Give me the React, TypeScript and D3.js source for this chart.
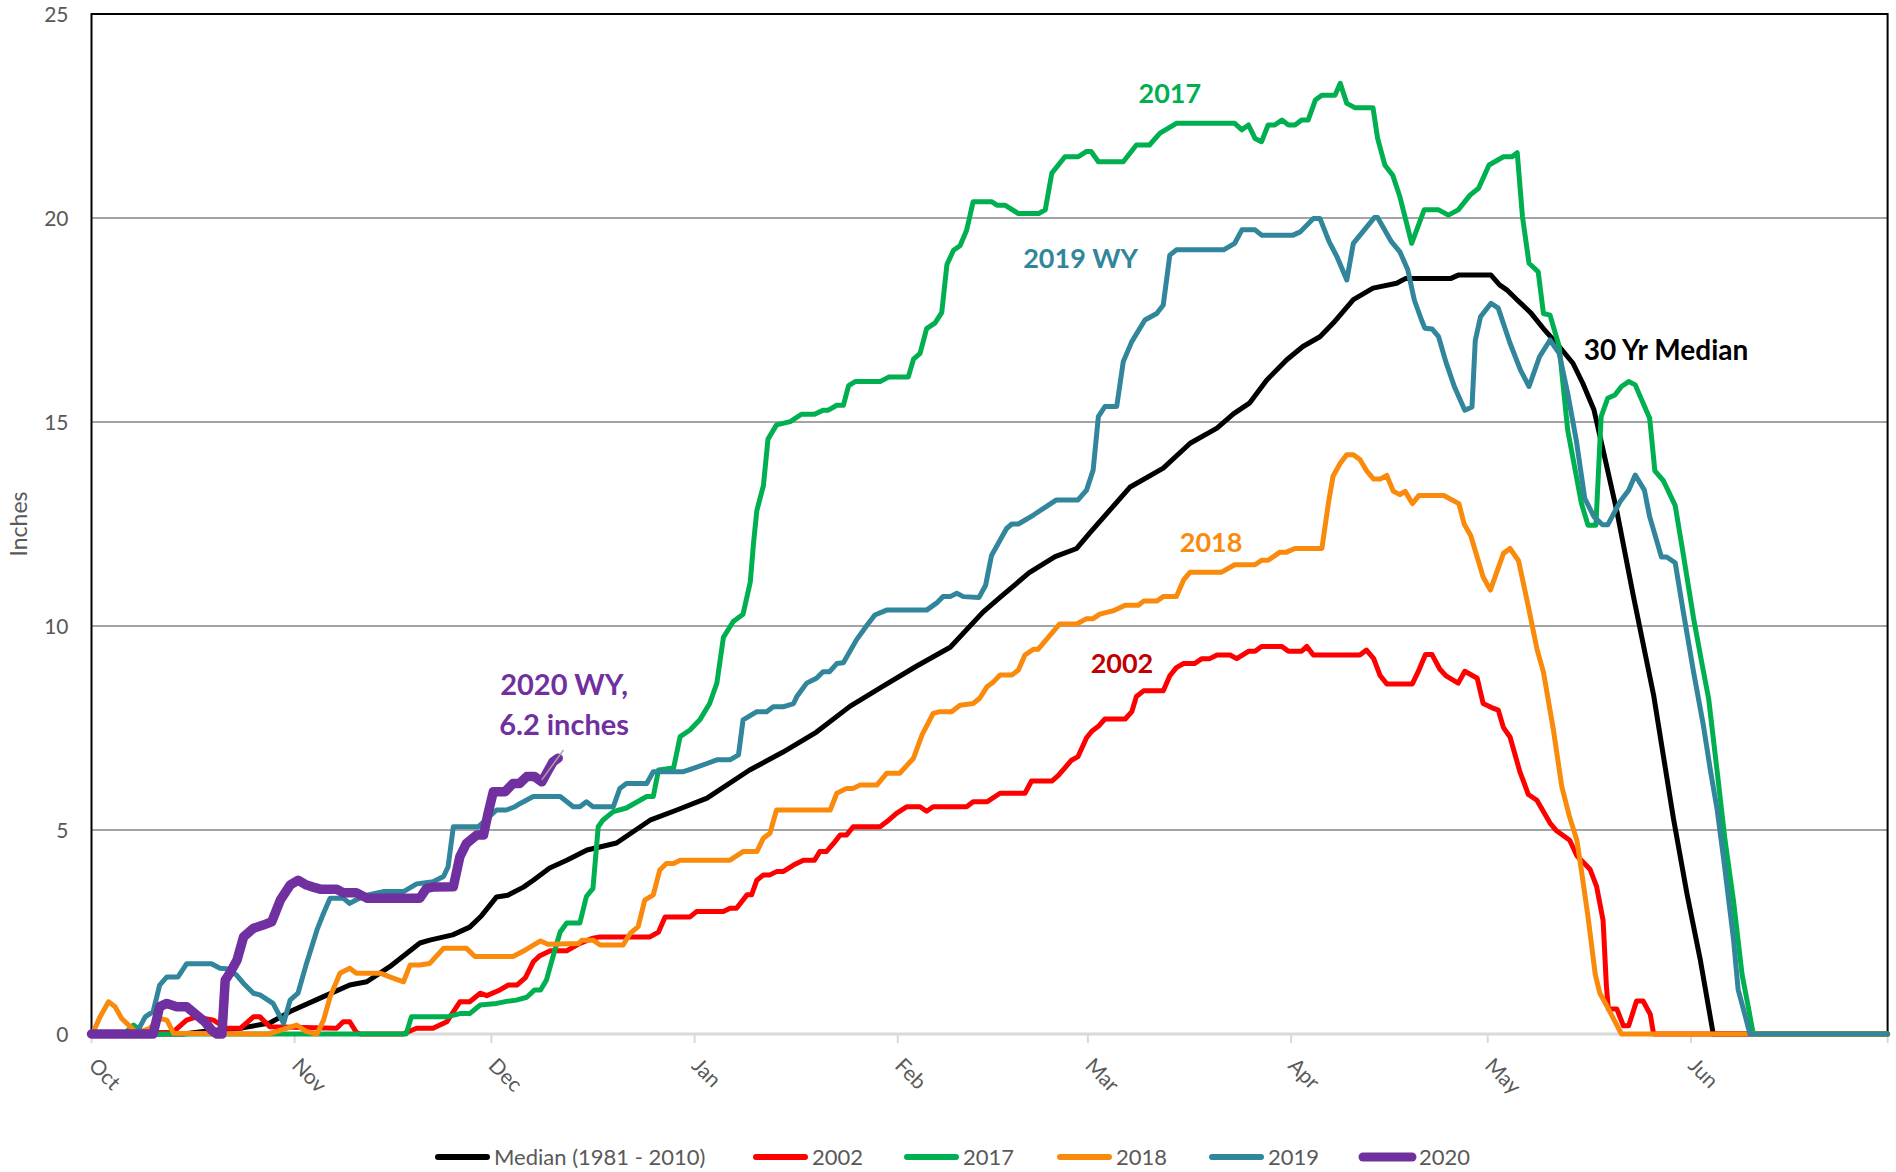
import * as d3 from 'd3';

// water year day index: 0 = Oct 1, 274 = end of June (leap Feb)
const monthLabels = ['Oct', 'Nov', 'Dec', 'Jan', 'Feb', 'Mar', 'Apr', 'May', 'Jun'];
const monthStarts = [0, 31, 61, 92, 123, 152, 183, 213, 244];
const dayCount = 274;
const yTicks = [0, 5, 10, 15, 20, 25];

const median: [number, number][] = [
  [0, 0], [14, 0], [18, 0.08], [22.7, 0.14], [27.2, 0.27], [30.3, 0.55], [35.3, 0.91], [39.4, 1.2], [42, 1.28],
  [45.5, 1.65], [50.1, 2.23], [51.6, 2.3], [55.1, 2.43], [57.7, 2.62], [59.5, 2.9], [61.8, 3.36], [63.5, 3.4],
  [65.9, 3.6], [67.4, 3.77], [69.9, 4.07], [72.5, 4.26], [75.6, 4.51], [80.1, 4.68], [85.2, 5.24], [89.3, 5.49],
  [93.9, 5.78], [100.4, 6.47], [105.5, 6.91], [110.6, 7.4], [115.7, 8.03], [120.7, 8.52], [125.9, 9.02],
  [131, 9.48], [136, 10.34], [138.6, 10.7], [143, 11.3], [147, 11.7], [150.3, 11.9], [152.3, 12.28],
  [158.4, 13.4], [163.5, 13.87], [167.6, 14.48], [171.7, 14.85], [174.2, 15.2], [176.7, 15.47], [179.3, 16.03],
  [182.3, 16.52], [184.8, 16.85], [187.4, 17.09], [189.4, 17.42], [192.5, 18.0], [195.5, 18.28], [199.1, 18.4],
  [200.5, 18.52], [207.4, 18.52], [208.5, 18.6], [213.5, 18.6], [214.8, 18.36], [215.9, 18.24], [217.5, 17.99],
  [219.6, 17.67], [221.7, 17.25], [223.9, 16.85], [226, 16.44], [227.5, 15.95], [229.2, 15.3], [230.6, 14.31],
  [232.7, 12.81], [235.2, 10.75], [238.3, 8.31], [241.3, 5.31], [243.4, 3.43], [245.4, 1.84], [247.4, 0], [274, 0],
];

const wy2002: [number, number][] = [
  [0, 0], [12.4, 0.04], [14.5, 0.34], [16, 0.42], [18.6, 0.34], [20.6, 0.14], [22.7, 0.14], [24.7, 0.42],
  [25.7, 0.42], [27.2, 0.18], [37.4, 0.14], [38.4, 0.3], [39.4, 0.3], [40.4, 0.04], [41, 0], [47.5, 0],
  [49.6, 0.14], [52.1, 0.14], [54.2, 0.3], [56.2, 0.79], [57.7, 0.79], [59.3, 1.0], [60.3, 0.94], [62.3, 1.08],
  [63.6, 1.2], [64.9, 1.2], [66.2, 1.38], [67.4, 1.77], [68.4, 1.92], [70, 2.04], [72.5, 2.04], [74.5, 2.22],
  [76.5, 2.35], [77.6, 2.38], [85.2, 2.38], [86.5, 2.5], [87.5, 2.87], [91.3, 2.87], [92.3, 3.0], [96.4, 3.0],
  [97.4, 3.08], [98.4, 3.08], [100, 3.41], [100.7, 3.41], [101.5, 3.77], [102.5, 3.9], [103.5, 3.9],
  [104.5, 3.98], [105.5, 3.98], [107.1, 4.14], [108.6, 4.26], [110.3, 4.26], [111.1, 4.47], [112.1, 4.47],
  [113.2, 4.67], [114.2, 4.88], [115.2, 4.88], [116.2, 5.08], [120.3, 5.08], [121.3, 5.2], [122.8, 5.41],
  [124.4, 5.57], [126.4, 5.57], [127.4, 5.46], [128.4, 5.57], [133.5, 5.57], [134.5, 5.69], [136.6, 5.69],
  [138.6, 5.9], [142.4, 5.9], [143.4, 6.2], [146.5, 6.2], [147.5, 6.34], [149.5, 6.71], [150.5, 6.8],
  [151.8, 7.26], [152.6, 7.42], [153.6, 7.54], [154.6, 7.72], [157.7, 7.72], [158.7, 7.9], [159.4, 8.27],
  [160.5, 8.41], [163.5, 8.41], [164.5, 8.78], [165.5, 8.98], [166.6, 9.08], [168.3, 9.08], [169.4, 9.2],
  [170.6, 9.2], [171.7, 9.29], [173.7, 9.29], [174.7, 9.2], [176.5, 9.38], [177.5, 9.38], [178.5, 9.5],
  [181.6, 9.5], [182.6, 9.38], [184.6, 9.38], [185.4, 9.5], [186.4, 9.29], [193.5, 9.29], [194.5, 9.41],
  [195.6, 9.2], [196.6, 8.78], [197.6, 8.58], [201.5, 8.58], [202.5, 8.92], [203.5, 9.3], [204.5, 9.3],
  [205.7, 8.94], [206.7, 8.77], [208.5, 8.6], [209.5, 8.89], [211.4, 8.72], [212.3, 8.1], [213.6, 8.0],
  [214.6, 7.94], [215.4, 7.51], [216.4, 7.28], [217.9, 6.43], [219.2, 5.87], [220.5, 5.73], [222.5, 5.17],
  [223.5, 4.98], [225.5, 4.75], [226.6, 4.37], [228.6, 4.04], [229.6, 3.62], [230.6, 2.78], [231.1, 1.18],
  [231.4, 0.62], [232.7, 0.61], [233.7, 0.2], [234.5, 0.2], [235.7, 0.81], [236.7, 0.81], [237.8, 0.48],
  [238.3, 0], [274, 0],
];

const wy2017: [number, number][] = [
  [0, 0], [5, 0], [6.4, 0.22], [8, 0], [48, 0], [48.8, 0.42], [54.2, 0.42], [56.2, 0.5], [57.7, 0.5],
  [59.3, 0.71], [61.8, 0.75], [63.3, 0.8], [64.8, 0.83], [66.4, 0.9], [67.6, 1.08], [68.5, 1.08], [69.4, 1.32],
  [70.4, 1.9], [71.5, 2.5], [72.5, 2.72], [74.5, 2.72], [75.5, 3.37], [76.5, 3.57], [77.3, 5.08], [78, 5.24],
  [79.6, 5.45], [81.6, 5.54], [84.7, 5.82], [85.7, 5.82], [86.5, 6.47], [88.8, 6.52], [89.8, 7.29],
  [91.3, 7.45], [92.8, 7.7], [94.3, 8.1], [95.4, 8.6], [96.4, 9.72], [97.9, 10.11], [99.4, 10.29],
  [100.5, 11.08], [101, 12.04], [101.5, 12.83], [102.5, 13.44], [103.2, 14.58], [104.5, 14.93], [106.6, 15.01],
  [108.3, 15.19], [110.3, 15.19], [111.6, 15.29], [112.4, 15.29], [113.7, 15.41], [114.7, 15.41],
  [115.5, 15.89], [116.5, 15.99], [120.3, 15.99], [121.6, 16.1], [124.6, 16.1], [125.4, 16.54],
  [126.4, 16.68], [127.4, 17.29], [128.7, 17.43], [129.7, 17.68], [130.5, 18.86], [131.5, 19.21],
  [132.5, 19.32], [133.5, 19.7], [134.5, 20.4], [137.3, 20.4], [138.2, 20.31], [139.4, 20.31], [141.4, 20.11],
  [144.5, 20.11], [145.5, 20.2], [146.5, 21.1], [148.5, 21.5], [150.5, 21.5], [151.8, 21.63], [152.5, 21.63],
  [153.6, 21.38], [157.4, 21.38], [159.4, 21.79], [161.4, 21.79], [163, 22.08], [165.5, 22.32], [174.4, 22.32],
  [175.5, 22.16], [176.5, 22.28], [177.5, 21.95], [178.5, 21.87], [179.5, 22.28], [180.5, 22.28],
  [181.6, 22.4], [182.6, 22.28], [183.6, 22.28], [184.6, 22.4], [185.6, 22.4], [186.7, 22.89], [187.7, 23.01],
  [189.7, 23.01], [190.5, 23.3], [191.5, 22.81], [192.8, 22.7], [195.5, 22.7], [196.2, 21.95], [197.3, 21.3],
  [198.5, 21.05], [199.6, 20.52], [201.4, 19.38], [203.3, 20.2], [205.5, 20.2], [207, 20.07], [208.5, 20.2],
  [210.3, 20.56], [211.6, 20.73], [213.2, 21.3], [215.4, 21.5], [216.7, 21.5], [217.5, 21.6], [218.3, 20.03],
  [219.3, 18.89], [220.7, 18.68], [221.5, 17.66], [222.5, 17.62], [223.9, 16.85], [225.2, 14.8], [227.3, 13.0],
  [228.3, 12.47], [229.5, 12.47], [230.3, 15.13], [231.3, 15.58], [232.4, 15.66], [233.4, 15.87],
  [234.5, 15.99], [235.5, 15.91], [237.7, 15.09], [238.5, 13.8], [239.8, 13.56], [241.6, 12.95],
  [242.9, 11.69], [244.4, 10.19], [245.7, 9.06], [246.7, 8.22], [248, 6.43], [249.2, 4.75], [250.5, 3.25],
  [251.8, 1.46], [252.8, 0.62], [253.5, 0], [274, 0],
];

const wy2018: [number, number][] = [
  [0, 0], [0.3, 0.06], [1.3, 0.42], [2.6, 0.79], [3.6, 0.67], [4.6, 0.38], [5.9, 0.18], [6.9, 0.02],
  [8.9, 0.14], [10.4, 0.38], [11.5, 0.34], [12.5, 0.02], [27, 0], [31.3, 0.22], [32.8, 0.06], [34.4, 0],
  [35.4, 0.34], [36.4, 0.91], [37.9, 1.49], [39.4, 1.61], [40.4, 1.49], [44, 1.49], [45.5, 1.4], [47.6, 1.28],
  [48.6, 1.69], [50.1, 1.69], [51.6, 1.73], [53.7, 2.1], [57.2, 2.1], [58.5, 1.9], [64.3, 1.9], [66.2, 2.06],
  [68.5, 2.28], [69.6, 2.2], [74.3, 2.22], [74.8, 2.3], [76.5, 2.3], [77.6, 2.18], [81.1, 2.18], [82.2, 2.47],
  [83.4, 2.63], [84.4, 3.28], [85.7, 3.41], [86.7, 4.02], [87.7, 4.18], [88.8, 4.18], [89.8, 4.26],
  [97.4, 4.26], [99.4, 4.47], [101.5, 4.47], [102.5, 4.8], [103.5, 4.92], [104.5, 5.49], [112.7, 5.49],
  [113.7, 5.9], [115.2, 6.02], [116.2, 6.02], [117.2, 6.1], [119.8, 6.1], [121.3, 6.39], [123.3, 6.39],
  [125.4, 6.76], [126.7, 7.33], [128.4, 7.86], [129.4, 7.9], [131.2, 7.9], [132.5, 8.06], [134.5, 8.1],
  [135.5, 8.23], [136.6, 8.51], [137.6, 8.63], [138.6, 8.8], [140.4, 8.8], [141.4, 8.92], [142.4, 9.29],
  [143.7, 9.43], [144.4, 9.43], [147.7, 10.05], [150.3, 10.05], [151.8, 10.18], [152.8, 10.18],
  [153.8, 10.29], [155.8, 10.37], [157.7, 10.51], [159.7, 10.51], [160.5, 10.61], [162.5, 10.61],
  [163.5, 10.72], [165.5, 10.72], [166.6, 11.13], [167.6, 11.32], [172.4, 11.32], [174.4, 11.5],
  [177.5, 11.5], [178.5, 11.61], [179.5, 11.61], [181.3, 11.81], [182.3, 11.81], [183.6, 11.9],
  [187.7, 11.9], [188.7, 13.02], [189.4, 13.67], [190.5, 13.99], [191.5, 14.2], [192.5, 14.2],
  [193.5, 14.08], [194.5, 13.81], [195.6, 13.6], [196.6, 13.6], [197.6, 13.69], [198.6, 13.3], [199.6, 13.22],
  [200.4, 13.3], [201.5, 13.0], [202.5, 13.2], [206.3, 13.2], [208.6, 13.0], [209.4, 12.5], [210.4, 12.22],
  [212.3, 11.2], [213.4, 10.88], [215.4, 11.78], [216.4, 11.9], [217.7, 11.6], [219.2, 10.47], [220.5, 9.44],
  [221.5, 8.87], [223, 7.47], [224.3, 6.06], [225.5, 5.31], [226.6, 4.75], [227.3, 4.0], [228.3, 2.87],
  [229.4, 1.46], [230.1, 1.0], [231.1, 0.71], [233.4, 0], [274, 0],
];

const wy2019: [number, number][] = [
  [0, 0], [7, 0], [7.4, 0.18], [8.2, 0.42], [9.4, 0.55], [10.4, 1.2], [11.5, 1.4], [13.2, 1.4], [14.5, 1.72],
  [18.3, 1.72], [19.6, 1.61], [20.6, 1.6], [22.1, 1.45], [23.2, 1.24], [24.7, 1.0], [25.7, 0.96], [27.7, 0.75],
  [29.3, 0.26], [30.3, 0.83], [31.5, 1.0], [32.8, 1.73], [34.4, 2.55], [35.4, 2.96], [36.4, 3.33],
  [38.4, 3.33], [39.4, 3.2], [40.4, 3.29], [42, 3.4], [44.5, 3.49], [47.6, 3.49], [49.6, 3.68], [52.1, 3.73],
  [53.7, 3.86], [54.4, 4.1], [55.2, 5.08], [59, 5.08], [61.8, 5.49], [63.3, 5.49], [64.6, 5.57], [65.4, 5.65],
  [67.4, 5.82], [71.5, 5.82], [73.5, 5.57], [74.5, 5.57], [75.5, 5.69], [76.5, 5.57], [79.6, 5.57],
  [80.6, 6.02], [81.6, 6.14], [84.7, 6.14], [85.7, 6.43], [90.3, 6.43], [91.8, 6.51], [93.9, 6.63],
  [95.4, 6.72], [97.4, 6.72], [98.7, 6.84], [99.4, 7.7], [101.5, 7.9], [103, 7.9], [104, 8.02], [105.5, 8.02],
  [107.1, 8.1], [107.6, 8.27], [109.1, 8.6], [110.6, 8.72], [111.6, 8.88], [112.6, 8.88], [113.7, 9.08],
  [114.7, 9.1], [116.7, 9.66], [118.3, 10.02], [119.5, 10.27], [121.3, 10.39], [127.4, 10.39], [128.9, 10.56],
  [129.9, 10.72], [131, 10.72], [132, 10.8], [133, 10.72], [135.4, 10.7], [136.4, 11.0], [137.3, 11.73],
  [139.6, 12.39], [140.4, 12.5], [141.4, 12.5], [143.7, 12.72], [147.2, 13.09], [150.5, 13.09],
  [151.8, 13.33], [152.8, 13.82], [153.6, 15.13], [154.6, 15.38], [156.4, 15.38], [157.4, 16.48],
  [158.7, 16.97], [160.7, 17.5], [162.5, 17.66], [163.5, 17.87], [164.5, 19.09], [165.5, 19.22],
  [172.7, 19.22], [174.4, 19.38], [175.5, 19.71], [177.5, 19.71], [178.5, 19.58], [183.3, 19.58],
  [184.4, 19.66], [186.4, 19.99], [187.4, 19.99], [188.8, 19.42], [190, 19.05], [191.5, 18.48], [192.5, 19.38],
  [195.7, 20.01], [196.2, 20.01], [198.3, 19.42], [199.6, 19.17], [200.8, 18.73], [201.8, 17.99],
  [202.9, 17.5], [203.4, 17.3], [204.5, 17.28], [205.5, 17.09], [206.6, 16.48], [207.9, 15.87], [209.5, 15.29],
  [210.6, 15.37], [211.1, 17.0], [211.9, 17.58], [213.5, 17.91], [214.6, 17.79], [216.4, 16.93], [218, 16.27],
  [219.3, 15.87], [220.9, 16.6], [222.5, 17.01], [223.9, 16.68], [225.2, 15.7], [226.5, 14.56],
  [227.8, 13.13], [229.2, 12.68], [230.5, 12.48], [231.3, 12.48], [233.2, 13.05], [234.5, 13.33],
  [235.5, 13.7], [236.9, 13.33], [237.7, 12.68], [239.5, 11.69], [240.3, 11.69], [241.6, 11.55],
  [242.8, 10.38], [244.4, 8.87], [245.9, 7.56], [247, 6.43], [248, 5.5], [249, 4.28], [250.5, 2.31],
  [251.2, 1.09], [252.3, 0.43], [253, 0], [274, 0],
];

const wy2020: [number, number][] = [
  [0, 0], [9.4, 0], [10.4, 0.67], [11.5, 0.75], [13, 0.67], [14.5, 0.67], [16, 0.47], [17.3, 0.3],
  [18.3, 0.1], [19.1, 0], [19.9, 0], [20.4, 1.32], [21.1, 1.49], [22.2, 1.81], [23.2, 2.38], [24.7, 2.59],
  [26.2, 2.67], [27.5, 2.75], [28.8, 3.28], [30.3, 3.65], [31.5, 3.77], [32.8, 3.65], [33.8, 3.6],
  [34.9, 3.55], [37.4, 3.55], [38.4, 3.46], [40.4, 3.46], [42, 3.33], [50.1, 3.33], [51.1, 3.57],
  [52.1, 3.6], [55.2, 3.61], [56.2, 4.35], [57.2, 4.67], [58.8, 4.88], [59.8, 4.88], [60.5, 5.41],
  [61.3, 5.94], [63.1, 5.94], [64.3, 6.14], [65.3, 6.14], [66.4, 6.31], [67.6, 6.31], [68.7, 6.18],
  [69.7, 6.47], [70.4, 6.67], [71.2, 6.76],
];

const series = [
  { name: 'Median (1981 - 2010)', color: '#000000', width: 5, data: median },
  { name: '2002', color: '#ff0000', width: 5, data: wy2002 },
  { name: '2017', color: '#00b050', width: 5, data: wy2017 },
  { name: '2018', color: '#fa8a0c', width: 5, data: wy2018 },
  { name: '2019', color: '#31869b', width: 5, data: wy2019 },
  { name: '2020', color: '#7030a0', width: 9.5, data: wy2020 },
];

const labels = [
  { text: '2017', day: 164.5, value: 22.81, color: '#00b050', size: 27 },
  { text: '2019 WY', day: 150.9, value: 18.77, color: '#31869b', size: 27 },
  { text: '30 Yr Median', day: 240.2, value: 16.52, color: '#000000', size: 28 },
  { text: '2018', day: 170.8, value: 11.81, color: '#fa8a0c', size: 27 },
  { text: '2002', day: 157.2, value: 8.86, color: '#c00000', size: 27 },
  { text: '2020 WY,', day: 72.1, value: 8.31, color: '#7030a0', size: 29 },
  { text: '6.2 inches', day: 72.1, value: 7.33, color: '#7030a0', size: 29 },
];
const leader: [number, number][] = [[68.7, 6.23], [72, 6.96]];

const legendX = [435, 753, 904, 1057, 1209, 1360];

const FONT = 'Lato, Carlito, Calibri, "Open Sans", sans-serif';

export default function App() {
  const width = 1896;
  const height = 1172;
  const x = d3.scaleLinear().domain([0, dayCount]).range([91.5, 1887.6]);
  const y = d3.scaleLinear().domain([0, 25]).range([1034, 14]);
  const line = d3
    .line<[number, number]>()
    .x(d => x(d[0]))
    .y(d => y(d[1]));

  const tickDays = [...monthStarts, dayCount];

  return (
    <svg
      width={width}
      height={height}
      style={{ position: 'fixed', left: 0, top: 0, background: '#fff', display: 'block' }}
      fontFamily={FONT}
    >
      {/* gridlines */}
      {yTicks.filter(t => t > 0 && t < 25).map(t => (
        <line key={t} x1={x(0)} x2={x(dayCount)} y1={y(t)} y2={y(t)} stroke="#868686" strokeWidth={1.6} />
      ))}
      {/* plot frame: left, top, right */}
      <path
        d={`M${x(0)},${y(0)}V${y(25)}H${x(dayCount)}V${y(0)}`}
        fill="none"
        stroke="#000"
        strokeWidth={2}
      />
      {/* x axis */}
      <line x1={x(0) - 1} x2={x(dayCount) + 1} y1={y(0)} y2={y(0)} stroke="#d9d9d9" strokeWidth={3} />
      {tickDays.map(d => (
        <line key={d} x1={x(d)} x2={x(d)} y1={y(0)} y2={y(0) + 9} stroke="#d9d9d9" strokeWidth={2} />
      ))}
      {monthLabels.map((m, i) => (
        <text
          key={m}
          transform={`translate(${x(monthStarts[i]) - 4},${y(0) + 33}) rotate(45)`}
          fontSize={21}
          fill="#595959"
        >
          {m}
        </text>
      ))}
      {/* y axis labels */}
      {yTicks.map(t => (
        <text key={t} x={x(0) - 23} y={y(t) + 7.5} textAnchor="end" fontSize={21} fill="#595959">
          {t}
        </text>
      ))}
      <text transform={`translate(27,${(y(0) + y(25)) / 2}) rotate(-90)`} textAnchor="middle" fontSize={23} fill="#595959">
        Inches
      </text>

      {/* series */}
      {series.map(s => (
        <path
          key={s.name}
          d={line(s.data) || ''}
          fill="none"
          stroke={s.color}
          strokeWidth={s.width}
          strokeLinejoin="round"
          strokeLinecap="round"
        />
      ))}

      {/* annotations */}
      <path d={line(leader) || ''} stroke="#a6a6a6" strokeWidth={1.5} fill="none" />
      {labels.map(l => (
        <text
          key={l.text}
          x={x(l.day)}
          y={y(l.value)}
          textAnchor="middle"
          fontSize={l.size}
          fontWeight={700}
          fill={l.color}
        >
          {l.text}
        </text>
      ))}

      {/* legend */}
      {series.map((s, i) => (
        <g key={s.name} transform={`translate(${legendX[i]},1157)`}>
          <line
            x1={3}
            x2={52}
            y1={0}
            y2={0}
            stroke={s.color}
            strokeWidth={s.width > 6 ? 9 : 6}
            strokeLinecap="round"
          />
          <text x={59} y={7.5} fontSize={22} fill="#595959">
            {s.name}
          </text>
        </g>
      ))}
    </svg>
  );
}
